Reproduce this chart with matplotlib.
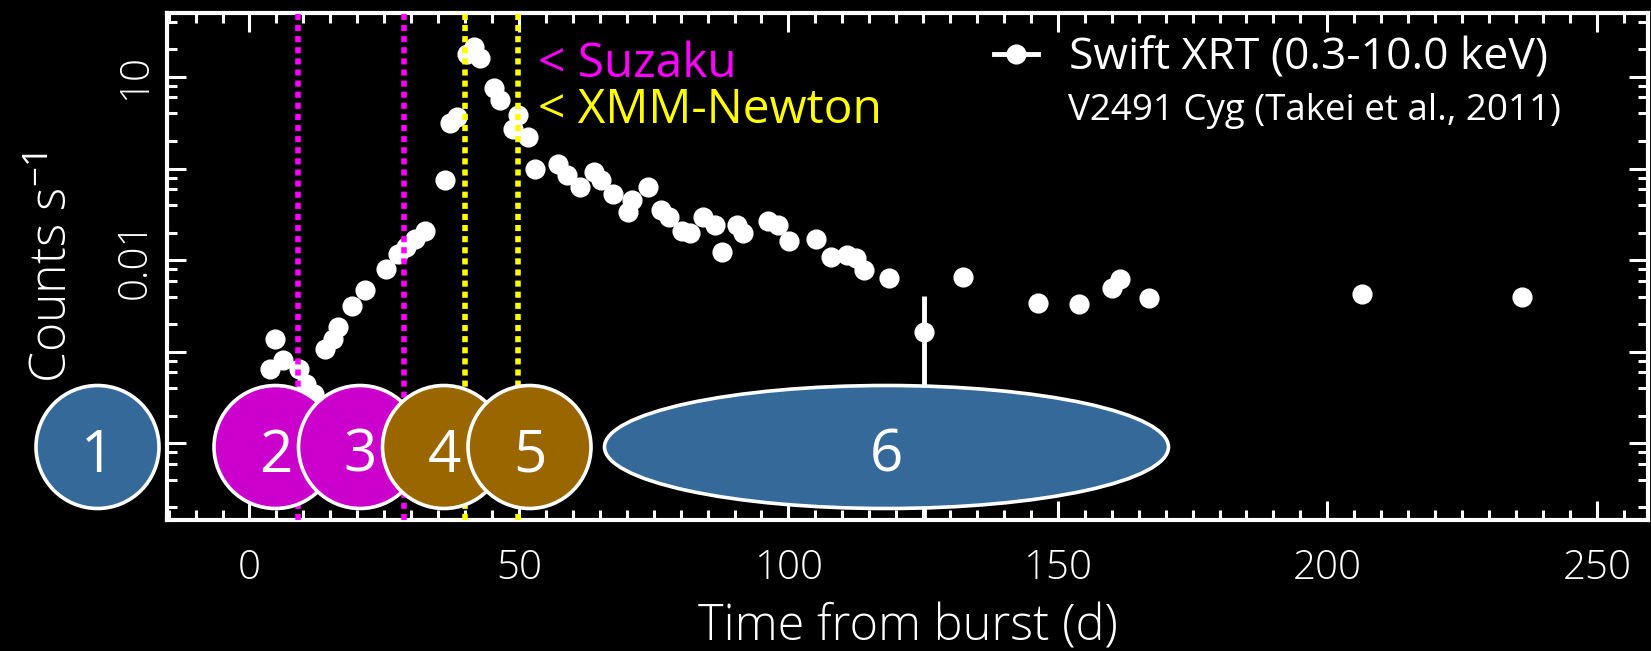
import matplotlib
matplotlib.use('Agg')
import matplotlib.pyplot as plt
from matplotlib.patches import Ellipse
from matplotlib.lines import Line2D
from matplotlib.ticker import MultipleLocator, LogLocator, NullFormatter

plt.rcParams['font.family'] = ['Open Sans', 'DejaVu Sans']
plt.rcParams['mathtext.fontset'] = 'custom'
plt.rcParams['mathtext.rm'] = 'Open Sans'
plt.rcParams['mathtext.it'] = 'Open Sans'
plt.rcParams['mathtext.bf'] = 'Open Sans'

# ---------------- data ----------------
days = [3.8, 4.8, 6.3, 9.1, 10.5, 11.9, 14.1, 15.5, 16.5, 19.0, 21.5, 25.4,
        27.6, 29.0, 30.7, 32.5, 36.3, 37.3, 38.6, 40.3, 41.6, 42.8, 45.3,
        46.4, 48.9, 49.9, 51.6, 53.0, 57.2, 58.9, 61.4, 63.9, 65.3, 67.5,
        70.3, 71.0, 73.9, 76.3, 77.8, 80.2, 81.7, 84.2, 86.3, 87.7, 90.5,
        91.6, 96.2, 98.0, 100.1, 105.1, 107.9, 110.8, 112.6, 114.0, 118.6,
        132.4, 146.4, 154.0, 160.1, 161.5, 167.0, 206.5, 236.2]
rates = [0.0065, 0.0139, 0.0081, 0.0065, 0.0045, 0.0035, 0.0108, 0.0139,
         0.0186, 0.0317, 0.047, 0.081, 0.117, 0.139, 0.171, 0.21, 0.75, 3.11,
         3.67, 17.9, 21.2, 16.2, 7.5, 5.55, 2.74, 3.83, 2.22, 1.0, 1.13, 0.85,
         0.63, 0.92, 0.75, 0.535, 0.34, 0.455, 0.63, 0.35, 0.30, 0.21, 0.20,
         0.30, 0.24, 0.124, 0.24, 0.20, 0.27, 0.24, 0.163, 0.172, 0.109,
         0.114, 0.105, 0.078, 0.064, 0.066, 0.034, 0.033, 0.050, 0.062, 0.039,
         0.043, 0.040]

# point with a large error bar
err_day = [125.2]
err_rate = [0.0165]
err_low = [1e-6]
err_high = [0.041]

suzaku_days = [8.95, 28.7]
xmm_days = [40.0, 49.8]

ytick_vals = [10, 0.1]
ytick_text = ['10', '0.01']
xtick_vals = [0, 50, 100, 150, 200, 250]

phase_labels = ['1', '2', '3', '4', '5', '6']

# ---------------- figure ----------------
W, H = 1651, 651
fig = plt.figure(figsize=(W / 100, H / 100), dpi=100, facecolor='black')
L, R, T, B = 167, 1648, 13, 520
ax = fig.add_axes([L / W, 1 - B / H, (R - L) / W, (B - T) / H])
ax.set_facecolor('black')

ax.set_yscale('log')
ax.set_xlim(-15.3, 259.5)
ax.set_ylim(1.46e-4, 50)

ax.plot(days, rates, 'o', color='white', ms=13.5, mec='white', zorder=2)
ax.errorbar(err_day, err_rate,
            yerr=[[err_rate[0] - err_low[0]], [err_high[0] - err_rate[0]]],
            fmt='o', color='white', ms=13.5, elinewidth=3.5, capsize=0, zorder=2)

dots = (0, (1.1, 0.9))
for d in suzaku_days:
    ax.axvline(d, color='#FF00FF', lw=4, linestyle=dots, zorder=3)
for d in xmm_days:
    ax.axvline(d, color='#FFFF00', lw=4, linestyle=dots, zorder=3)

# ticks
ax.set_xticks(xtick_vals)
ax.set_xticklabels([str(v) for v in xtick_vals])
ax.xaxis.set_minor_locator(MultipleLocator(5))
ax.set_yticks([1e-3, 1e-2, 1e-1, 1, 10])
ax.set_yticklabels(['', '', ytick_text[1], '', ytick_text[0]])
ax.yaxis.set_minor_locator(LogLocator(base=10, subs=(2, 4, 6, 8), numticks=20))
ax.yaxis.set_minor_formatter(NullFormatter())

ax.tick_params(which='both', direction='in', top=True, right=True,
               color='white', labelcolor='white')
ax.tick_params(which='major', length=14, width=2.2)
ax.tick_params(which='minor', length=7, width=2.2)
ax.tick_params(axis='x', which='major', labelsize=29, pad=20)
ax.tick_params(axis='y', which='major', labelsize=29, pad=8)
for lab in ax.get_yticklabels() + ax.get_xticklabels():
    lab.set_fontweight('light')
for lab in ax.get_yticklabels():
    lab.set_rotation(90)
    lab.set_va('center')

for sp in ax.spines.values():
    sp.set_color('white')
    sp.set_linewidth(3)

ax.set_xlabel('Time from burst (d)', fontsize=35, color='white', fontweight='light')
ax.xaxis.label.set_va('baseline')
ax.xaxis.set_label_coords((908 - L) / (R - L), (B - 640) / (B - T))
ax.set_ylabel(r'Counts s$^{-1}$', fontsize=36, color='white', fontweight='light')
ax.yaxis.label.set_va('baseline')
ax.yaxis.set_label_coords((68 - L) / (R - L), (B - 268) / (B - T))

# legend
handle = Line2D([], [], color='white', marker='o', ms=13.5, lw=3.5)
leg = ax.legend([handle], ['Swift XRT (0.3-10.0 keV)'], loc='center left',
                bbox_to_anchor=(994 / W, 1 - 58 / H), bbox_transform=fig.transFigure,
                frameon=False, fontsize=32, handlelength=1.0, handletextpad=0.68,
                borderpad=0, borderaxespad=0, labelcolor='white')
fig.text(1068 / W, 1 - 120 / H, 'V2491 Cyg (Takei et al., 2011)', color='white',
         fontsize=26.5, va='baseline', ha='left')

# instrument labels
fig.text(538 / W, 1 - 77 / H, '< Suzaku', color='#FF00FF', fontsize=34.5,
         va='baseline', ha='left')
fig.text(538 / W, 1 - 123 / H, '< XMM-Newton', color='#FFFF00', fontsize=34.5,
         va='baseline', ha='left')

# phase markers (figure-pixel layout)
cy = 447
shapes = [
    (97.5, 123, '#35699A'),
    (275.5, 123, '#CC00CC'),
    (360, 123, '#CC00CC'),
    (444, 123, '#996600'),
    (529.5, 123, '#996600'),
    (886.5, 564, '#35699A'),
]
for i, ((cx, w, col), lab) in enumerate(zip(shapes, phase_labels)):
    e = Ellipse((cx / W, 1 - cy / H), w / W, 123 / H, transform=fig.transFigure,
                facecolor=col, edgecolor='white', lw=2.6, zorder=10 + i)
    fig.add_artist(e)
    fig.text(cx / W, 1 - 472 / H, lab, color='white', fontsize=42,
             ha='center', va='baseline', zorder=10 + i)

fig.savefig('out.png', dpi=100, facecolor='black')
